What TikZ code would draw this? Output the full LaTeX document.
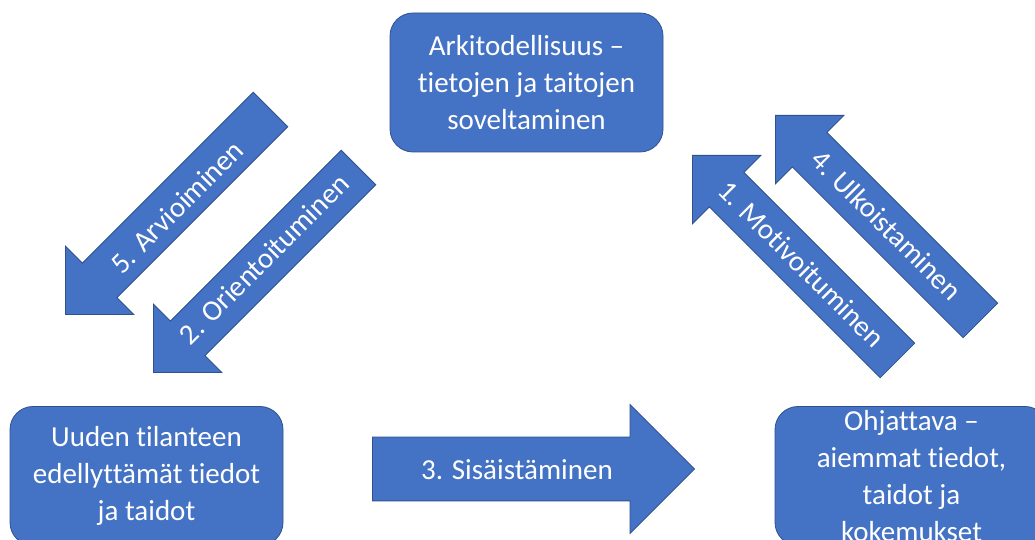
\documentclass[tikz,border=0pt]{standalone}
\usepackage{fontspec}
\setmainfont{Carlito}[Ligatures = NoCommon]
\usetikzlibrary{shapes.arrows}

\definecolor{boxblue}{HTML}{4472C4}
\definecolor{boxline}{HTML}{2F528F}

\tikzset{
	stagebox/.style = {rectangle, rounded corners = 23pt, fill = boxblue, draw = boxline, line width = 0.8pt,
		minimum width = 273pt, minimum height = 139pt, text = white, align = center,
		font = \fontsize{29}{37}\selectfont},
	diagarrow/.style = {single arrow, fill = boxblue, draw = boxline, line width = 0.8pt,
		inner xsep = 0pt, inner ysep = 24pt, single arrow head extend = 24pt,
		single arrow tip angle = 90, minimum height = 290pt, anchor = tip},
	flatarrow/.style = {single arrow, fill = boxblue, draw = boxline, line width = 0.8pt,
		inner xsep = 0pt, inner ysep = 31.5pt, single arrow head extend = 32.5pt,
		single arrow tip angle = 90, minimum height = 322pt, anchor = tip},
	arrowtext/.style = {text = white, inner sep = 0pt, font = \fontsize{29}{37}\selectfont}
}

\begin{document}
\begin{tikzpicture}[x = 1pt, y = 1pt]
	\useasboundingbox [fill = white] (0,0) rectangle (1035,540);

	% boxes
	\node [stagebox] (arki) at (526.5,457.5) {Arkitodellisuus --\\tietojen ja taitojen\\soveltaminen};
	\node [stagebox] (uusi) at (146.5,64) {Uuden tilanteen\\edellyttämät tiedot\\ja taidot};
	\node [stagebox] (ohj) at (911.5,64) {Ohjattava --\\aiemmat tiedot,\\taidot ja\\kokemukset};

	% arrows
	\node [diagarrow, rotate = 225] (arvio) at (65,225) {};
	\node [diagarrow, rotate = 225] (orient) at (153,167) {};
	\node [diagarrow, rotate = 135] (motiv) at (692,385) {};
	\node [diagarrow, rotate = 135] (ulko) at (775,425) {};
	\node [flatarrow] (sisa) at (695,71) {};

	% arrow labels
	\node [arrowtext, rotate = 45] (arviot) at (177,333) {5. Arvioiminen};
	\node [arrowtext, rotate = 45] (orientt) at (264,281) {2. Orientoituminen};
	\node [arrowtext, rotate = -45] (motivt) at (801.5,276) {1. Motivoituminen};
	\node [arrowtext, rotate = -45] (ulkot) at (886.5,315) {4. Ulkoistaminen};
	\node [arrowtext] (sisat) at (517,70) {3. Sisäistäminen};
\end{tikzpicture}
\end{document}
